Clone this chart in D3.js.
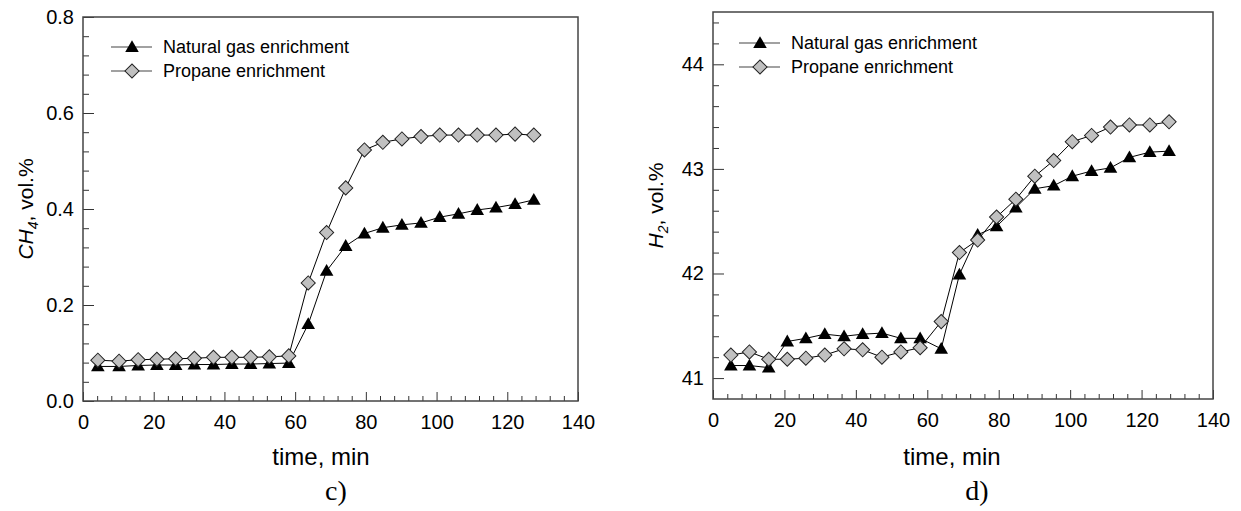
<!DOCTYPE html>
<html>
<head>
  <title>CH4 and H2 vs time</title>
  <script src="https://d3js.org/d3.v7.min.js"></script>
  <style>
    body { margin: 0; background: #fff; }
    text { font-family: "Liberation Sans", Arial, sans-serif; }
  </style>
</head>
<body>

<div id="chart"></div>

<script>
// Data
const seriesNames = ["Natural gas enrichment", "Propane enrichment"];

const timeC = [4.2, 10.2, 15.6, 20.9, 26.2, 31.5, 36.9, 42.1, 47.4, 52.7, 58.2,
  63.7, 68.9, 74.3, 79.6, 84.8, 90.2, 95.6, 100.9, 106.2, 111.5, 116.8, 122.2, 127.5];
const ch4Natural = [0.072, 0.072, 0.074, 0.075, 0.075, 0.076, 0.076, 0.077, 0.077, 0.078, 0.079,
  0.160, 0.271, 0.323, 0.349, 0.361, 0.367, 0.371, 0.383, 0.390, 0.398, 0.403, 0.410, 0.419];
const ch4Propane = [0.085, 0.083, 0.086, 0.087, 0.088, 0.089, 0.091, 0.091, 0.091, 0.092, 0.094,
  0.246, 0.351, 0.444, 0.523, 0.539, 0.546, 0.551, 0.554, 0.554, 0.554, 0.554, 0.556, 0.554];

const timeD = [5.0, 10.2, 15.6, 20.8, 26.0, 31.3, 36.7, 41.9, 47.3, 52.6, 58.0,
  63.9, 69.0, 74.1, 79.4, 84.8, 90.1, 95.4, 100.6, 106.0, 111.3, 116.6, 122.3, 127.7];
const h2Natural = [41.12, 41.12, 41.10, 41.35, 41.38, 41.42, 41.40, 41.42, 41.43, 41.38, 41.38,
  41.28, 41.99, 42.37, 42.45, 42.63, 42.81, 42.84, 42.93, 42.98, 43.01, 43.11, 43.16, 43.17];
const h2Propane = [41.22, 41.25, 41.18, 41.18, 41.19, 41.22, 41.28, 41.27, 41.20, 41.25, 41.29,
  41.54, 42.20, 42.32, 42.54, 42.71, 42.93, 43.08, 43.26, 43.32, 43.40, 43.42, 43.42, 43.45];

const xTicks = [0, 20, 40, 60, 80, 100, 120, 140];
const yTicksC = [0, 0.2, 0.4, 0.6, 0.8];
const yTicksD = [41, 42, 43, 44];

const W = 1241, H = 511;
const svg = d3.select("#chart").append("svg")
  .attr("width", W).attr("height", H);

function drawPanel(p) {
  const x = d3.scaleLinear().domain([0, 140]).range([p.left, p.right]);
  const y = d3.scaleLinear().domain(p.yDomain).range([p.bottom, p.top]);
  const g = svg.append("g");

  // minor ticks
  const xMinor = d3.range(0, 141, 4).filter(v => v % 20 !== 0);
  g.append("g").attr("transform", `translate(0,${p.bottom})`)
    .call(d3.axisBottom(x).tickValues(xMinor).tickSize(-5).tickFormat(""))
    .call(a => a.select(".domain").remove());
  g.append("g").attr("transform", `translate(${p.left},0)`)
    .call(d3.axisLeft(y).tickValues(p.yMinor).tickSize(-6).tickFormat(""))
    .call(a => a.select(".domain").remove());

  // major ticks
  g.append("g").attr("class", "xaxis").attr("transform", `translate(0,${p.bottom})`)
    .call(d3.axisBottom(x).tickValues(xTicks).tickSizeInner(-9).tickSizeOuter(0).tickPadding(14))
    .call(a => a.select(".domain").remove());
  g.append("g").attr("class", "yaxis").attr("transform", `translate(${p.left},0)`)
    .call(d3.axisLeft(y).tickValues(p.yTicks).tickSizeInner(-11).tickSizeOuter(0)
      .tickPadding(9).tickFormat(p.yFormat))
    .call(a => a.select(".domain").remove());

  g.selectAll(".tick line").attr("stroke", "#333");
  g.selectAll(".tick text").attr("font-size", 20).attr("fill", "#000")
    .style("font-family", "'Liberation Sans', Arial, sans-serif");

  // frame
  g.append("rect")
    .attr("x", p.left).attr("y", p.top)
    .attr("width", p.right - p.left).attr("height", p.bottom - p.top)
    .attr("fill", "none").attr("stroke", "#444").attr("stroke-width", 1.5);

  const line = d3.line().x(d => x(d[0])).y(d => y(d[1]));
  const tri = d3.symbol(d3.symbolTriangle, 80);
  const dia = d3.symbol(d3.symbolSquare, 100);

  const s1 = p.time.map((t, i) => [t, p.s1[i]]);
  const s2 = p.time.map((t, i) => [t, p.s2[i]]);

  g.append("path").datum(s1).attr("d", line)
    .attr("fill", "none").attr("stroke", "#000").attr("stroke-width", 1);
  g.append("path").datum(s2).attr("d", line)
    .attr("fill", "none").attr("stroke", "#000").attr("stroke-width", 1);

  g.selectAll(".tri").data(s1).join("path")
    .attr("d", tri)
    .attr("transform", d => `translate(${x(d[0])},${y(d[1]) + 1})`)
    .attr("fill", "#000");
  g.selectAll(".dia").data(s2).join("path")
    .attr("d", dia)
    .attr("transform", d => `translate(${x(d[0])},${y(d[1])}) rotate(45)`)
    .attr("fill", "#c0c0c0").attr("stroke", "#222").attr("stroke-width", 1);

  // legend
  const lg = g.append("g");
  [0, 1].forEach(i => {
    const yy = p.legY + i * 24;
    lg.append("line").attr("x1", p.legX).attr("x2", p.legX + 41)
      .attr("y1", yy).attr("y2", yy).attr("stroke", "#444").attr("stroke-width", 1.2);
    lg.append("path")
      .attr("d", i === 0 ? tri : dia)
      .attr("transform", i === 0 ? `translate(${p.legX + 21},${yy + 1})`
        : `translate(${p.legX + 21},${yy}) rotate(45)`)
      .attr("fill", i === 0 ? "#000" : "#c0c0c0")
      .attr("stroke", i === 0 ? "none" : "#222");
    lg.append("text").attr("x", p.legX + 52).attr("y", yy + 6)
      .attr("font-size", 18).text(seriesNames[i]);
  });

  // axis titles
  svg.append("text")
    .attr("x", p.xLabelX).attr("y", 465)
    .attr("text-anchor", "middle").attr("font-size", 24)
    .text("time, min");

  const yl = svg.append("text")
    .attr("transform", `translate(${p.yLabelX},${(p.top + p.bottom) / 2}) rotate(-90)`)
    .attr("text-anchor", "middle").attr("font-size", 21);
  yl.append("tspan").attr("font-style", "italic").text(p.yName);
  yl.append("tspan").attr("font-style", "italic").attr("font-size", 14).attr("dy", 5).text(p.ySub);
  yl.append("tspan").attr("dy", -5).text(", vol.%");

  svg.append("text")
    .attr("x", p.capX).attr("y", 500)
    .attr("text-anchor", "middle").attr("font-size", 28)
    .style("font-family", "'Liberation Serif', 'Times New Roman', serif")
    .text(p.caption);
}

drawPanel({
  left: 83, right: 578, top: 17, bottom: 401,
  yDomain: [0, 0.8], yTicks: yTicksC, yMinor: d3.range(0, 0.81, 0.04).filter((v, i) => i % 5 !== 0),
  yFormat: d3.format(".1f"),
  time: timeC, s1: ch4Natural, s2: ch4Propane,
  legX: 111, legY: 47,
  xLabelX: 321, yLabelX: 33, yName: "CH", ySub: "4",
  capX: 336, caption: "c)"
});

drawPanel({
  left: 713, right: 1213, top: 12, bottom: 399,
  yDomain: [40.8, 44.5], yTicks: yTicksD, yMinor: d3.range(41, 44.45, 0.2).filter((v, i) => i % 5 !== 0),
  yFormat: d3.format("d"),
  time: timeD, s1: h2Natural, s2: h2Propane,
  legX: 739, legY: 43,
  xLabelX: 952, yLabelX: 663, yName: "H", ySub: "2",
  capX: 977, caption: "d)"
});
</script>

</body>
</html>
